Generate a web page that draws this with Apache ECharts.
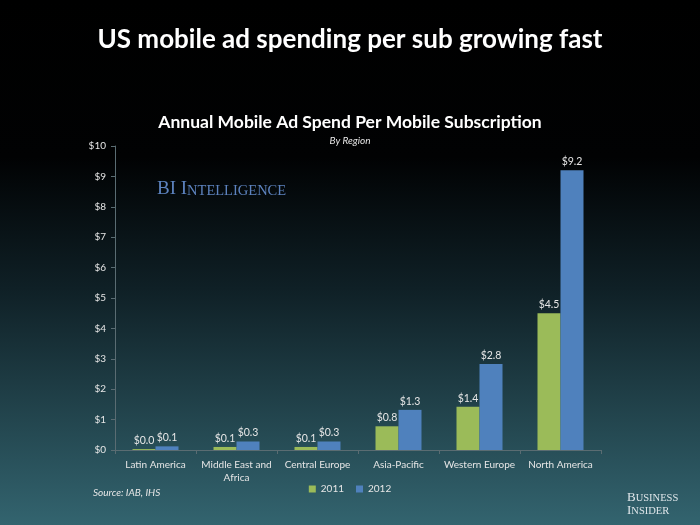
<!DOCTYPE html>
<html><head><meta charset="utf-8">
<script src="https://cdn.jsdelivr.net/npm/echarts@6/dist/echarts.min.js"></script>
<style>html,body{margin:0;padding:0;background:#000}#c{width:700px;height:525px}</style>
</head><body><div id="c"></div>
<script>
const categories = ['Latin America', 'Middle East and\nAfrica', 'Central Europe', 'Asia-Pacific', 'Western Europe', 'North America'];
const values2011 = [0.03, 0.10, 0.10, 0.78, 1.42, 4.50];
const values2012 = [0.12, 0.28, 0.28, 1.32, 2.83, 9.20];
const yTicks = [0, 1, 2, 3, 4, 5, 6, 7, 8, 9, 10];
const font = 'Lato, "Open Sans", sans-serif';
const serif = '"Liberation Serif", "DejaVu Serif", serif';
const chart = echarts.init(document.getElementById('c'));
const lbl = {show: true, position: 'top', color: '#e6e6e6', fontSize: 10.5, fontFamily: font, distance: 3,
  formatter: p => '$' + p.value.toFixed(1)};
chart.setOption({
  backgroundColor: {type: 'linear', x: 0, y: 0, x2: 0, y2: 1, colorStops: [
    {offset: 0, color: '#000000'}, {offset: 0.3, color: '#010203'}, {offset: 0.55, color: '#0f2026'}, {offset: 1, color: '#33646f'}]},
  title: [
    {text: 'US mobile ad spending per sub growing fast', left: 'center', top: 22,
     textStyle: {color: '#fff', fontSize: 26, fontWeight: 'bold', fontFamily: font}},
    {text: 'Annual Mobile Ad Spend Per Mobile Subscription', left: 'center', top: 108,
     textStyle: {color: '#fff', fontSize: 17.5, fontWeight: 'bold', fontFamily: font}},
    {text: 'By Region', left: 'center', top: 131,
     textStyle: {color: '#e6e6e6', fontSize: 10, fontStyle: 'italic', fontWeight: 'normal', fontFamily: font}},
    {text: 'Source: IAB, IHS', left: 88, top: 483,
     textStyle: {color: '#e6e6e6', fontSize: 10, fontStyle: 'italic', fontWeight: 'normal', fontFamily: font}}
  ],
  graphic: [
    {type: 'text', left: 157, top: 180, style: {text: '{a|BI I}{b|NTELLIGENCE}', fill: '#5d83bf',
      rich: {a: {fontSize: 19, fontFamily: serif, fill: '#5d83bf', verticalAlign: 'bottom'},
             b: {fontSize: 14.5, fontFamily: serif, fill: '#5d83bf', verticalAlign: 'bottom'}}}},
    {type: 'text', left: 627, top: 491, style: {text: '{a|B}{b|USINESS}\n{a|I}{b|NSIDER}', fill: '#dfe6ea',
      rich: {a: {fontSize: 13, fontFamily: serif, fill: '#dfe6ea', verticalAlign: 'bottom'},
             b: {fontSize: 10.5, fontFamily: serif, fill: '#dfe6ea', verticalAlign: 'bottom'}}}}
  ],
  legend: {data: ['2011', '2012'], left: 'center', top: 479, itemWidth: 7, itemHeight: 7, itemGap: 12,
    icon: 'rect', textStyle: {color: '#e6e6e6', fontSize: 10, fontFamily: font}},
  grid: {left: 115, right: 99, top: 146, bottom: 75},
  xAxis: {type: 'category', data: categories,
    axisLine: {lineStyle: {color: '#5a6c72'}},
    axisTick: {show: true, length: 4, lineStyle: {color: '#5a6c72'}},
    axisLabel: {color: '#e6e6e6', fontSize: 10, fontFamily: font, margin: 8, lineHeight: 13, interval: 0}},
  yAxis: {type: 'value', min: 0, max: 10, interval: 1,
    axisLine: {show: true, lineStyle: {color: '#5a6c72'}},
    axisTick: {show: true, length: 4, lineStyle: {color: '#5a6c72'}},
    splitLine: {show: false},
    axisLabel: {color: '#e6e6e6', fontSize: 10, fontFamily: font, margin: 9,
      formatter: v => yTicks.includes(v) ? '$' + v : ''}},
  series: [
    {name: '2011', type: 'bar', data: values2011, itemStyle: {color: '#9bbb59'}, barWidth: 23, barGap: '0%', label: lbl},
    {name: '2012', type: 'bar', data: values2012, itemStyle: {color: '#4f81bd'}, barWidth: 23, label: lbl}
  ]
});
</script></body></html>
